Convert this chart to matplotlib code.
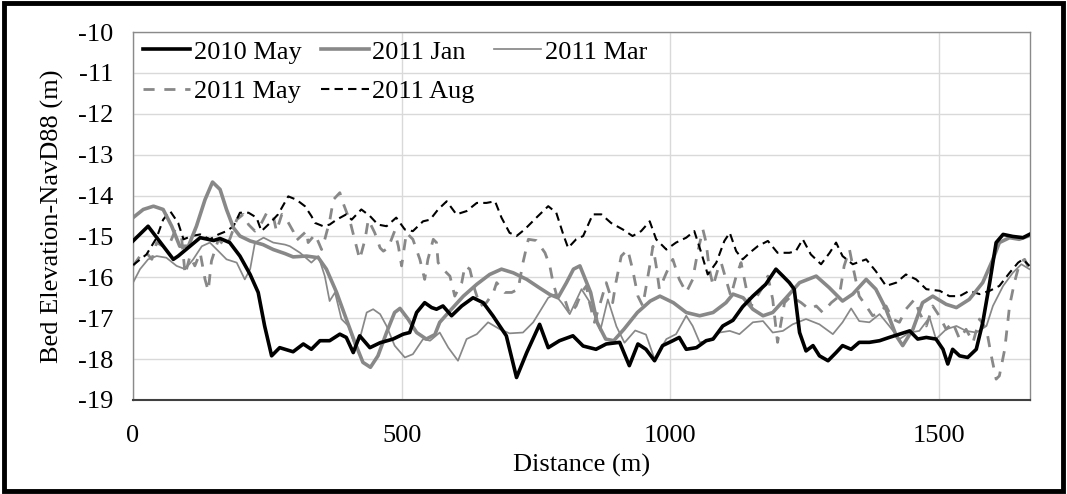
import matplotlib
matplotlib.use("Agg")
import matplotlib.pyplot as plt
from matplotlib.patches import Rectangle
import numpy as np

plt.rcParams['font.family'] = ['Liberation Serif', 'DejaVu Serif']
plt.rcParams['axes.unicode_minus'] = False

# bed profiles along the reach, distance (m) and elevation (m, NAVD88)
may10_x = [0, 28, 75, 84, 125, 150, 162, 180, 199, 218, 233, 245, 258, 273, 298, 317, 332, 348,
           366, 385, 397, 410, 422, 441, 460, 484, 503, 515, 528, 543, 556, 565, 577, 593, 612,
           633, 652, 670, 695, 714, 733, 757, 773, 794, 819, 838, 862, 881, 906, 924, 940, 955,
           971, 986, 1005, 1017, 1030, 1049, 1067, 1080, 1098, 1117, 1135, 1154, 1178, 1197,
           1210, 1222, 1231, 1241, 1253, 1266, 1278, 1294, 1309, 1321, 1337, 1352, 1371, 1390,
           1408, 1427, 1446, 1461, 1477, 1495, 1508, 1517, 1526, 1539, 1554, 1570, 1582, 1595,
           1607, 1620, 1638, 1657, 1669]
may10_y = [-15.11, -14.75, -15.56, -15.48, -15.03, -15.10, -15.05, -15.15, -15.48, -15.93, -16.37,
           -17.19, -17.92, -17.72, -17.82, -17.63, -17.76, -17.55, -17.55, -17.39, -17.47, -17.84,
           -17.43, -17.72, -17.60, -17.51, -17.39, -17.35, -16.86, -16.62, -16.74, -16.78, -16.70,
           -16.94, -16.70, -16.50, -16.62, -16.94, -17.43, -18.45, -17.84, -17.15, -17.72, -17.55,
           -17.43, -17.68, -17.76, -17.63, -17.59, -18.16, -17.63, -17.76, -18.04, -17.67, -17.55,
           -17.47, -17.76, -17.72, -17.55, -17.51, -17.19, -17.05, -16.72, -16.46, -16.17, -15.80,
           -15.97, -16.13, -16.29, -17.35, -17.80, -17.67, -17.92, -18.04, -17.84, -17.67, -17.76,
           -17.59, -17.59, -17.55, -17.47, -17.39, -17.31, -17.51, -17.47, -17.51, -17.76, -18.12,
           -17.76, -17.92, -17.96, -17.76, -17.11, -16.13, -15.15, -14.95, -15.00, -15.03, -14.95]

jan11_x = [0, 19, 38, 56, 72, 87, 103, 118, 134, 148, 162, 174, 187, 199, 218, 242, 261, 283,
           298, 323, 345, 360, 379, 397, 413, 428, 442, 456, 472, 487, 497, 512, 528, 546, 562,
           571, 590, 615, 640, 664, 686, 708, 733, 757, 776, 791, 807, 820, 832, 852, 864, 880,
           895, 914, 939, 963, 981, 1006, 1030, 1055, 1080, 1104, 1117, 1136, 1154, 1173, 1191,
           1216, 1241, 1272, 1296, 1321, 1340, 1365, 1383, 1402, 1421, 1433, 1452, 1470, 1489,
           1514, 1533, 1557, 1582, 1601, 1613, 1632, 1650, 1669]
jan11_y = [-14.54, -14.34, -14.26, -14.34, -14.75, -15.24, -15.24, -14.75, -14.10, -13.67, -13.85,
           -14.34, -14.79, -14.99, -15.11, -15.20, -15.32, -15.42, -15.50, -15.48, -15.52, -15.80,
           -16.37, -17.02, -17.59, -18.08, -18.20, -17.92, -17.35, -16.86, -16.76, -17.02, -17.35,
           -17.51, -17.40, -17.10, -16.82, -16.46, -16.17, -15.93, -15.80, -15.89, -16.05, -16.26,
           -16.42, -16.50, -16.13, -15.80, -15.72, -16.37, -17.10, -17.51, -17.55, -17.27, -16.86,
           -16.58, -16.46, -16.62, -16.86, -16.94, -16.86, -16.62, -16.41, -16.50, -16.78, -16.94,
           -16.86, -16.50, -16.13, -15.97, -16.25, -16.58, -16.41, -16.05, -16.29, -16.78, -17.43,
           -17.67, -17.27, -16.62, -16.46, -16.66, -16.74, -16.54, -16.13, -15.56, -15.15, -15.03,
           -15.07, -14.98]

mar11_x = [0, 13, 28, 44, 62, 81, 97, 112, 128, 143, 159, 174, 193, 208, 218, 227, 243, 261,
           283, 292, 311, 332, 345, 357, 366, 376, 388, 401, 413, 422, 435, 447, 460, 472, 487,
           506, 521, 540, 553, 571, 587, 605, 621, 640, 661, 683, 701, 726, 745, 760, 773, 785,
           798, 813, 826, 835, 850, 870, 884, 900, 915, 935, 955, 971, 993, 1011, 1030, 1042,
           1055, 1073, 1092, 1111, 1129, 1154, 1173, 1191, 1210, 1228, 1253, 1278, 1303, 1321,
           1337, 1352, 1371, 1390, 1408, 1427, 1446, 1464, 1483, 1495, 1514, 1533, 1551, 1570,
           1589, 1601, 1620, 1638, 1654, 1669]
mar11_y = [-16.13, -15.80, -15.56, -15.48, -15.52, -15.72, -15.80, -15.56, -15.24, -15.15, -15.36,
           -15.56, -15.64, -16.05, -15.80, -15.15, -15.03, -15.15, -15.20, -15.24, -15.40, -15.64,
           -15.48, -15.97, -16.58, -16.37, -17.02, -17.19, -17.67, -17.51, -16.86, -16.78, -16.90,
           -17.19, -17.67, -17.96, -17.88, -17.51, -17.55, -17.35, -17.72, -18.04, -17.51, -17.39,
           -17.10, -17.27, -17.37, -17.35, -17.10, -16.78, -16.50, -16.42, -16.62, -16.90, -16.54,
           -16.29, -16.60, -17.30, -16.54, -17.20, -17.60, -17.30, -17.40, -18.00, -17.51, -17.39,
           -16.94, -17.19, -17.59, -17.55, -17.35, -17.31, -17.39, -17.10, -17.07, -17.35, -17.31,
           -17.15, -17.02, -17.15, -17.39, -17.10, -16.76, -17.07, -17.10, -16.90, -17.19, -17.51,
           -17.35, -17.31, -16.98, -17.51, -17.27, -17.19, -17.31, -17.35, -17.19, -16.70, -16.21,
           -15.89, -15.68, -15.80]

may11_x = [0, 13, 25, 35, 44, 56, 69, 78, 90, 97, 106, 115, 125, 134, 140, 146, 159, 171, 180,
           193, 205, 215, 227, 236, 249, 261, 267, 277, 286, 298, 304, 323, 326, 339, 351, 357,
           366, 373, 385, 391, 404, 413, 422, 432, 438, 450, 460, 466, 475, 487, 494, 500, 509,
           521, 534, 543, 549, 559, 565, 568, 577, 590, 599, 612, 618, 627, 636, 646, 658, 671,
           677, 692, 705, 717, 726, 736, 751, 767, 776, 782, 791, 804, 813, 825, 835, 844, 850,
           859, 872, 881, 893, 899, 909, 921, 930, 940, 949, 962, 968, 974, 980, 993, 1005, 1017,
           1030, 1042, 1051, 1061, 1067, 1073, 1080, 1089, 1095, 1104, 1113, 1123, 1132, 1142,
           1151, 1170, 1182, 1191, 1200, 1213, 1225, 1244, 1259, 1272, 1284, 1300, 1315, 1324,
           1334, 1340, 1352, 1365, 1377, 1390, 1402, 1414, 1427, 1439, 1455, 1464, 1477, 1489,
           1501, 1514, 1526, 1539, 1551, 1564, 1576, 1589, 1598, 1607, 1613, 1623, 1632, 1641,
           1651, 1660, 1669]
may11_y = [-15.72, -15.48, -15.40, -15.56, -15.15, -15.24, -15.15, -14.87, -14.99, -15.93, -15.48,
           -15.72, -15.40, -16.05, -16.33, -15.60, -15.07, -15.24, -15.07, -14.59, -14.46, -14.71,
           -14.87, -14.75, -14.42, -14.50, -14.87, -14.46, -14.59, -14.87, -15.10, -14.87, -15.15,
           -14.95, -15.32, -15.07, -14.63, -14.10, -13.93, -14.18, -14.63, -15.10, -15.56, -15.07,
           -14.59, -14.91, -15.28, -15.36, -15.28, -14.87, -15.24, -15.72, -14.91, -15.07, -15.56,
           -16.05, -15.56, -15.07, -15.15, -15.64, -15.80, -15.97, -16.46, -16.13, -15.72, -15.80,
           -16.29, -16.70, -16.62, -16.37, -16.13, -16.37, -16.37, -16.29, -15.64, -15.07, -15.10,
           -15.40, -15.72, -16.13, -16.54, -16.54, -16.90, -16.70, -16.37, -16.21, -16.62, -17.10,
           -16.54, -16.13, -16.62, -16.13, -15.48, -15.32, -15.80, -16.46, -16.70, -15.72, -15.24,
           -15.72, -16.29, -15.89, -15.56, -16.05, -16.37, -16.05, -15.40, -14.83, -15.15, -15.80,
           -16.21, -15.80, -15.64, -16.05, -16.46, -15.97, -15.64, -16.29, -16.70, -16.29, -15.97,
           -16.54, -17.59, -16.62, -16.46, -16.62, -16.78, -16.70, -16.86, -16.62, -16.46, -15.72,
           -15.32, -15.72, -16.46, -16.70, -16.94, -16.86, -16.70, -17.02, -17.10, -16.78, -16.54,
           -16.86, -17.19, -16.70, -16.94, -17.27, -17.10, -17.51, -17.27, -17.59, -17.02, -17.27,
           -17.92, -18.49, -18.41, -17.76, -16.70, -16.13, -15.64, -15.56, -15.80]

aug11_x = [0, 25, 44, 56, 69, 84, 94, 109, 125, 143, 159, 174, 187, 199, 215, 230, 239, 255,
           270, 289, 304, 320, 332, 339, 354, 366, 379, 397, 407, 425, 441, 456, 472, 490, 506,
           521, 540, 553, 568, 584, 602, 621, 640, 658, 674, 686, 701, 714, 729, 751, 773, 788,
           801, 810, 825, 838, 856, 872, 890, 912, 930, 946, 962, 974, 993, 1011, 1030, 1045,
           1058, 1070, 1086, 1101, 1111, 1123, 1135, 1148, 1163, 1182, 1200, 1222, 1234, 1247,
           1262, 1281, 1297, 1309, 1321, 1340, 1365, 1383, 1402, 1421, 1439, 1458, 1477, 1502,
           1520, 1539, 1557, 1576, 1595, 1613, 1632, 1648, 1657, 1669]
aug11_y = [-15.70, -15.44, -15.03, -14.59, -14.38, -14.67, -15.07, -14.99, -14.95, -15.07, -14.95,
           -14.87, -14.75, -14.42, -14.42, -14.54, -14.87, -14.67, -14.46, -14.02, -14.10, -14.26,
           -14.50, -14.67, -14.75, -14.71, -14.59, -14.46, -14.59, -14.34, -14.50, -14.71, -14.75,
           -14.54, -14.83, -14.87, -14.63, -14.59, -14.34, -14.14, -14.46, -14.38, -14.18, -14.18,
           -14.14, -14.54, -14.91, -14.99, -14.83, -14.54, -14.26, -14.42, -14.95, -15.28, -15.07,
           -14.99, -14.46, -14.46, -14.67, -14.83, -14.99, -14.87, -14.63, -15.07, -15.32, -15.15,
           -15.03, -14.87, -15.40, -15.93, -15.64, -15.11, -14.91, -15.36, -15.56, -15.40, -15.24,
           -15.11, -15.40, -15.40, -15.36, -15.07, -15.44, -15.68, -15.40, -15.15, -15.48, -15.68,
           -15.56, -15.85, -16.21, -16.13, -15.93, -16.05, -16.29, -16.33, -16.46, -16.46, -16.33,
           -16.41, -16.33, -16.21, -15.89, -15.64, -15.56, -15.72]

x_ticks = [0, 500, 1000, 1500]
y_ticks = [-19, -18, -17, -16, -15, -14, -13, -12, -11, -10]

gray = '#888888'
fs = 19

fig = plt.figure(figsize=(10.67, 4.94), dpi=100)
ax = fig.add_axes([0.1247, 0.1903, 0.8406, 0.7449])

line_kw = dict(solid_joinstyle='round', dash_joinstyle='round')
l_may10, = ax.plot(may10_x, may10_y, color='black', lw=2.6, label='2010 May', zorder=5, **line_kw)
l_jan11, = ax.plot(jan11_x, jan11_y, color=gray, lw=2.6, label='2011 Jan', zorder=4, **line_kw)
l_mar11, = ax.plot(mar11_x, mar11_y, color=gray, lw=1.25, label='2011 Mar', zorder=3, **line_kw)
l_may11, = ax.plot(may11_x, may11_y, color=gray, lw=2.0, dashes=(4, 3.5), label='2011 May',
                   zorder=2, **line_kw)
l_aug11, = ax.plot(aug11_x, aug11_y, color='black', lw=1.5, dashes=(4, 2.5), label='2011 Aug',
                   zorder=3, **line_kw)

ax.set_xlim(0, 1670)
ax.set_ylim(-19, -10)
ax.set_xticks(x_ticks)
ax.set_yticks(y_ticks)
ax.grid(True, color='#d9d9d9', lw=1.0)
ax.set_axisbelow(True)
ax.tick_params(length=0, labelsize=fs)
ax.tick_params(axis='x', pad=18)
ax.tick_params(axis='y', pad=14)
for s in ['left', 'top', 'right']:
    ax.spines[s].set_color('#8a8a8a')
    ax.spines[s].set_linewidth(1.0)
ax.spines['bottom'].set_color('#404040')
ax.spines['bottom'].set_linewidth(1.5)

ax.set_xlabel('Distance (m)', fontsize=fs, labelpad=5)
ax.set_ylabel('Bed Elevation-NavD88 (m)', fontsize=fs, labelpad=10)

# legend filled column by column, so order the handles to read row-wise
handles = [l_may10, l_may11, l_jan11, l_aug11, l_mar11]
ax.legend(handles=handles, labels=[h.get_label() for h in handles], ncol=3,
          loc='upper left', bbox_to_anchor=(0.011, 0.978), frameon=False, fontsize=fs,
          handlelength=1.8, handletextpad=0.12, columnspacing=0.75, labelspacing=0.62,
          borderaxespad=0, borderpad=0)

fig.patches.append(Rectangle((0.004, 0.006), 0.992, 0.988, transform=fig.transFigure,
                             fill=False, edgecolor='black', lw=3.5))

fig.savefig('out.png', dpi=100)
